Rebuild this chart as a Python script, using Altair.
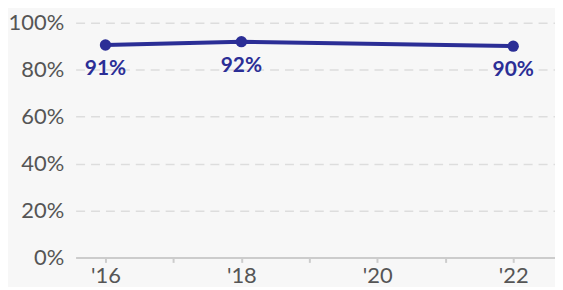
import altair as alt
import pandas as pd

years = [2016, 2018, 2022]
values = [0.905, 0.919, 0.900]
labels = ["91%", "92%", "90%"]

tick_years = [2016, 2017, 2018, 2019, 2020, 2021, 2022]
y_ticks = [0, 0.2, 0.4, 0.6, 0.8, 1.0]

df = pd.DataFrame({"year": years, "value": values, "label": labels})

color = "#2b2e96"

x = alt.X(
    "year:Q",
    scale=alt.Scale(domain=[2015.561, 2022.615], nice=False, zero=False),
    axis=alt.Axis(
        values=tick_years,
        labelExpr="datum.value % 2 == 0 ? \"'\" + substring(toString(datum.value), 2, 4) : ''",
        grid=False,
        title=None,
        domainColor="#cccccc",
        domainWidth=2,
        tickColor="#cccccc",
        tickWidth=2,
        tickSize=5,
        labelFont="Lato",
        labelFontSize=22,
        labelColor="#555555",
        labelPadding=3,
    ),
)
y = alt.Y(
    "value:Q",
    scale=alt.Scale(domain=[0, 1], nice=False),
    axis=alt.Axis(
        values=y_ticks,
        format="%",
        title=None,
        domain=False,
        ticks=False,
        gridDash=[9, 6],
        gridColor="#dddddd",
        gridWidth=1.5,
        labelFont="Lato",
        labelFontSize=22,
        labelColor="#555555",
        labelPadding=12,
    ),
)

line = alt.Chart(df).mark_line(color=color, strokeWidth=4).encode(x=x, y=y)
points = alt.Chart(df).mark_circle(color=color, size=130, opacity=1).encode(x=x, y=y)
text = alt.Chart(df).mark_text(
    color=color, font="Lato", fontWeight="bold", fontSize=21, dy=24, align="center"
).encode(x=x, y=y, text="label:N")

chart = (
    alt.layer(line, points, text)
    .properties(width=482, height=236, background="#f7f7f7", padding={"left": 0, "top": 3, "right": 0, "bottom": 0})
    .configure_view(strokeWidth=0)
)

chart.save("out.html", embed_options={"renderer": "svg", "actions": False})
